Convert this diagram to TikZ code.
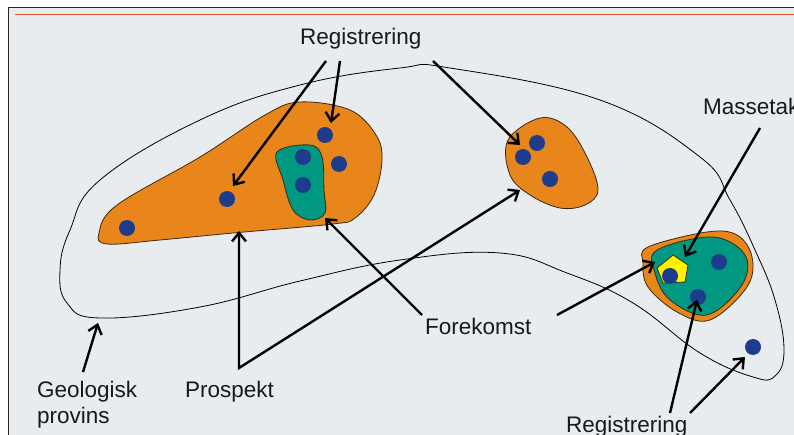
\documentclass[tikz,border=0pt]{standalone}
\usepackage{fontspec}
\setmainfont{Liberation Sans}
\usetikzlibrary{arrows.meta}
\definecolor{panelBg}{HTML}{E8ECEE}
\definecolor{ruleRed}{HTML}{E8553A}
\definecolor{oreOrange}{HTML}{E8861C}
\definecolor{oreTeal}{HTML}{009880}
\definecolor{oreYellow}{HTML}{FFF200}
\definecolor{findBlue}{HTML}{1E3C8C}
\definecolor{blobLine}{HTML}{3A2A10}
\tikzset{
  blob/.style={draw=blobLine,line width=0.8pt},
  pointer/.style={draw=black,line width=2.4pt,line join=miter,
                  -{Straight Barb[length=8.5pt,width=14pt]}},
  find/.style={circle,fill=findBlue,inner sep=0pt,minimum size=16pt},
  tag/.style={font=\fontsize{22.5}{26}\selectfont,text=black!90,
              anchor=base west,inner sep=0pt,align=left},
}

\begin{document}
\begin{tikzpicture}[x=1pt,y=-1pt]
  \useasboundingbox (0,0) rectangle (794,435);
  \fill[white] (0,0) rectangle (794,435);
  \fill[panelBg] (8,7) rectangle (794,435);
  \draw[black!85,line width=1.2pt] (8.5,435) -- (8.5,7.5) -- (794,7.5);
  \draw[ruleRed,line width=1.5pt] (15,14.5) -- (794,14.5);

  % geological province
  \draw[line width=0.8pt] plot[smooth cycle,tension=0.7] coordinates {
    (70,230) (100,180) (200,120) (300,85) (400,68) (450,68) (600,100)
    (700,157) (730,200) (755,250) (775,300) (784,350) (775,376) (753,377)
    (700,353) (633,303) (567,273) (500,253) (400,260) (300,281) (200,307)
    (100,318) (67,303) (60,270)};

  % prospects and deposits
  \filldraw[blob,fill=oreOrange] plot[smooth cycle,tension=0.6] coordinates {
    (99,233) (107,244) (160,240) (233,233) (333,224) (355,218) (374,195)
    (382,160) (376,135) (350,110) (300,102) (265,115) (200,157) (117,205)};
  \filldraw[blob,fill=oreTeal] plot[smooth cycle,tension=0.6] coordinates {
    (277,152) (310,145) (322,157) (324,190) (325,213) (310,220) (293,210)
    (283,180)};
  \filldraw[blob,fill=oreOrange] plot[smooth cycle,tension=0.6] coordinates {
    (540,118) (567,127) (587,157) (598,190) (585,205) (560,208) (530,195)
    (510,175) (508,140)};
  \filldraw[blob,fill=oreOrange] plot[smooth cycle,tension=0.6] coordinates {
    (643,263) (648,247) (707,232) (737,235) (752,257) (747,287) (710,320)
    (677,312) (648,287)};
  \filldraw[blob,fill=oreTeal] plot[smooth cycle,tension=0.6] coordinates {
    (657,250) (713,237) (745,255) (742,285) (707,315) (670,300) (655,273)};
  \filldraw[blob,fill=oreYellow] (673,255) -- (688,265) -- (685,282)
    -- (663,283) -- (657,268) -- cycle;

  % finds
  \node[find] (d1)  at (127,228) {};
  \node[find] (d2)  at (227,199) {};
  \node[find] (d3)  at (325,135) {};
  \node[find] (d4)  at (303,157) {};
  \node[find] (d5)  at (339,164) {};
  \node[find] (d6)  at (303,185) {};
  \node[find] (d7)  at (537,143) {};
  \node[find] (d8)  at (523,157) {};
  \node[find] (d9)  at (550,179) {};
  \node[find] (d10) at (719,262) {};
  \node[find] (d11) at (698,297) {};
  \node[find] (d12) at (670,276) {};
  \node[find] (d13) at (753,347) {};

  % labels
  \node[tag] (regTop)  at (300,45)  {Registrering};
  \node[tag] (masse)   at (703,115) {Massetak};
  \node[tag] (forek)   at (425,334) {Forekomst};
  \node[tag] (prosp)   at (185,397) {Prospekt};
  \node[tag] (geo)     at (37,423)  {Geologisk\\provins};
  \node[tag] (regBot)  at (566,432) {Registrering};

  % arrow ends
  \coordinate (rA) at (326,61);  \coordinate (rAe) at (233,186);
  \coordinate (rB) at (340,61);  \coordinate (rBe) at (331,123);
  \coordinate (rC) at (433,61);  \coordinate (rCe) at (520,145);
  \coordinate (mA) at (760,128); \coordinate (mAe) at (685,257);
  \coordinate (fA) at (422,315); \coordinate (fAe) at (325,218);
  \coordinate (fB) at (557,315); \coordinate (fBe) at (655,262);
  \coordinate (pApex) at (239,368);
  \coordinate (pAe) at (239,231); \coordinate (pBe) at (520,190);
  \coordinate (gA) at (83,372);  \coordinate (gAe) at (98,323);
  \coordinate (bA) at (670,413); \coordinate (bAe) at (697,300);
  \coordinate (bB) at (690,413); \coordinate (bBe) at (745,357);

  \draw[pointer] (rA) -- (rAe);
  \draw[pointer] (rB) -- (rBe);
  \draw[pointer] (rC) -- (rCe);
  \draw[pointer] (mA) -- (mAe);
  \draw[pointer] (fA) -- (fAe);
  \draw[pointer] (fB) -- (fBe);
  \draw[pointer,{Straight Barb[length=8.5pt,width=14pt]}-{Straight Barb[length=8.5pt,width=14pt]}]
    (pAe) -- (pApex) -- (pBe);
  \draw[pointer] (gA) -- (gAe);
  \draw[pointer] (bA) -- (bAe);
  \draw[pointer] (bB) -- (bBe);
\end{tikzpicture}
\end{document}
